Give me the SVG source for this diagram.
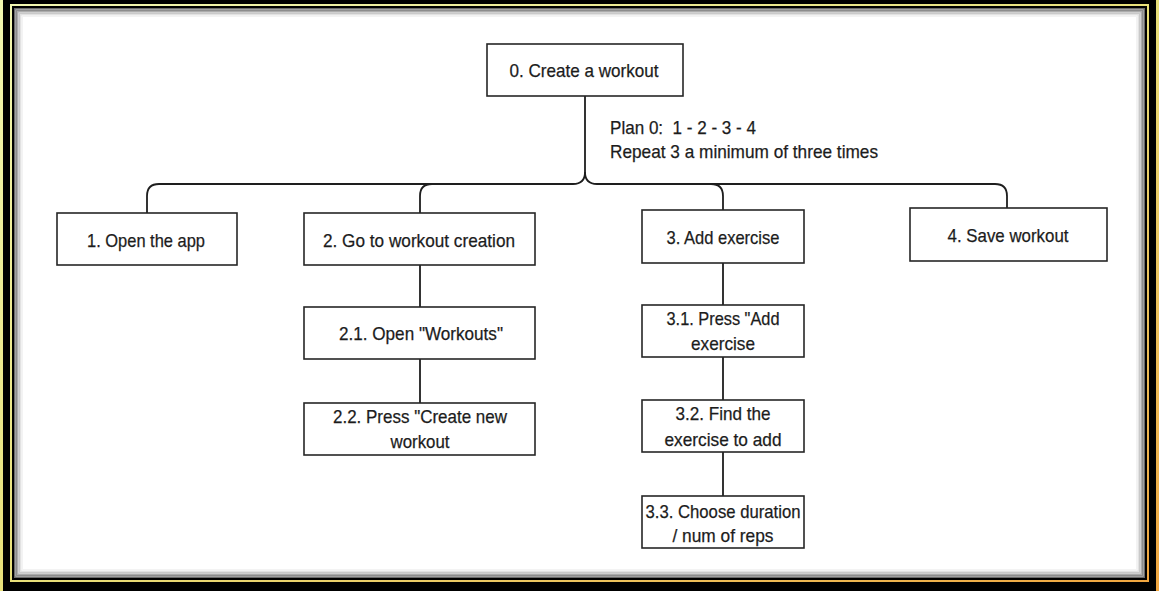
<svg xmlns="http://www.w3.org/2000/svg" width="1159" height="591" viewBox="0 0 1159 591">
  <defs>
    <linearGradient id="gold" x1="0" y1="0" x2="1" y2="1">
      <stop offset="0" stop-color="#f2f7b0"/>
      <stop offset="0.5" stop-color="#e8e07a"/>
      <stop offset="1" stop-color="#f0a640"/>
    </linearGradient>
  </defs>
  <style>
    .box { fill: #ffffff; stroke: #262626; stroke-width: 1.6; }
    .lbl { font-family: "Liberation Sans", Arial, sans-serif; font-size: 19px; fill: #1c1c1c; stroke: #1c1c1c; stroke-width: 0.25; text-anchor: middle; }
    .note { font-family: "Liberation Sans", Arial, sans-serif; font-size: 19px; fill: #1c1c1c; stroke: #1c1c1c; stroke-width: 0.25; white-space: pre; }
    .conn { fill: none; stroke: #1e1e1e; stroke-width: 1.8; }
    .sh { fill: none; }
  </style>

  <g id="frame">
    <rect x="0" y="0" width="1159" height="591" fill="url(#gold)"/>
    <rect x="3" y="0" width="1153" height="591" fill="#000"/>
    <rect x="11" y="5" width="1137" height="576" fill="none" stroke="url(#gold)" stroke-width="2"/>
    <rect x="14" y="8" width="1131" height="570" fill="#ffffff"/>
    <rect x="14.75" y="8.75" width="1129.5" height="568.5" class="sh" stroke="#6a6a6a" stroke-width="1.5"/>
    <rect x="16.25" y="10.25" width="1126.5" height="565.5" class="sh" stroke="#8c8c8c" stroke-width="1.5"/>
    <rect x="17.75" y="11.75" width="1123.5" height="562.5" class="sh" stroke="#ababab" stroke-width="1.5"/>
    <rect x="19.25" y="13.25" width="1120.5" height="559.5" class="sh" stroke="#c9c9c9" stroke-width="1.5"/>
    <rect x="20.75" y="14.75" width="1117.5" height="556.5" class="sh" stroke="#e2e2e2" stroke-width="1.5"/>
    <rect x="22.25" y="16.25" width="1114.5" height="553.5" class="sh" stroke="#f3f3f3" stroke-width="1.5"/>
  </g>

  <g id="connectors">
    <path class="conn" d="M147,213 V196 Q147,184 159,184 H573 Q585,184 585,172 V96"/>
    <path class="conn" d="M585,172 Q585,184 597,184 H995 Q1007,184 1007,196 V208"/>
    <path class="conn" d="M420,213 V196 Q420,184 432,184"/>
    <path class="conn" d="M711,184 Q723,184 723,196 V210"/>
    <path class="conn" d="M420,265 V307 M420,359 V403"/>
    <path class="conn" d="M723,263 V305 M723,357 V400 M723,452 V496"/>
  </g>

  <g id="plan">
    <text class="note" x="610" y="134" xml:space="preserve" textLength="146" lengthAdjust="spacingAndGlyphs">Plan 0:  1 - 2 - 3 - 4</text>
    <text class="note" x="610" y="158" textLength="268" lengthAdjust="spacingAndGlyphs">Repeat 3 a minimum of three times</text>
  </g>

  <g id="n0">
    <rect class="box" x="487" y="44" width="196" height="52"/>
    <text class="lbl" x="584" y="77" textLength="149" lengthAdjust="spacingAndGlyphs">0. Create a workout</text>
  </g>
  <g id="n1">
    <rect class="box" x="57" y="213" width="180" height="52"/>
    <text class="lbl" x="146" y="247" textLength="118" lengthAdjust="spacingAndGlyphs">1. Open the app</text>
  </g>
  <g id="n2">
    <rect class="box" x="304" y="213" width="231" height="52"/>
    <text class="lbl" x="419" y="247" textLength="192" lengthAdjust="spacingAndGlyphs">2. Go to workout creation</text>
  </g>
  <g id="n3">
    <rect class="box" x="642" y="210" width="162" height="53"/>
    <text class="lbl" x="723" y="244" textLength="113" lengthAdjust="spacingAndGlyphs">3. Add exercise</text>
  </g>
  <g id="n4">
    <rect class="box" x="910" y="208" width="197" height="53"/>
    <text class="lbl" x="1008" y="242" textLength="121" lengthAdjust="spacingAndGlyphs">4. Save workout</text>
  </g>
  <g id="n2_1">
    <rect class="box" x="304" y="307" width="231" height="52"/>
    <text class="lbl" x="421" y="340" textLength="164" lengthAdjust="spacingAndGlyphs">2.1. Open "Workouts"</text>
  </g>
  <g id="n2_2">
    <rect class="box" x="304" y="403" width="231" height="52"/>
    <text class="lbl" x="420" y="423" textLength="174" lengthAdjust="spacingAndGlyphs">2.2. Press "Create new</text>
    <text class="lbl" x="420" y="448" textLength="59" lengthAdjust="spacingAndGlyphs">workout</text>
  </g>
  <g id="n3_1">
    <rect class="box" x="642" y="305" width="162" height="52"/>
    <text class="lbl" x="723" y="325" textLength="113" lengthAdjust="spacingAndGlyphs">3.1. Press "Add</text>
    <text class="lbl" x="723" y="350" textLength="64" lengthAdjust="spacingAndGlyphs">exercise</text>
  </g>
  <g id="n3_2">
    <rect class="box" x="642" y="400" width="162" height="52"/>
    <text class="lbl" x="723" y="420" textLength="95" lengthAdjust="spacingAndGlyphs">3.2. Find the</text>
    <text class="lbl" x="723" y="446" textLength="117" lengthAdjust="spacingAndGlyphs">exercise to add</text>
  </g>
  <g id="n3_3">
    <rect class="box" x="642" y="496" width="162" height="52"/>
    <text class="lbl" x="723" y="518" textLength="155" lengthAdjust="spacingAndGlyphs">3.3. Choose duration</text>
    <text class="lbl" x="723" y="542" textLength="101" lengthAdjust="spacingAndGlyphs">/ num of reps</text>
  </g>
</svg>
